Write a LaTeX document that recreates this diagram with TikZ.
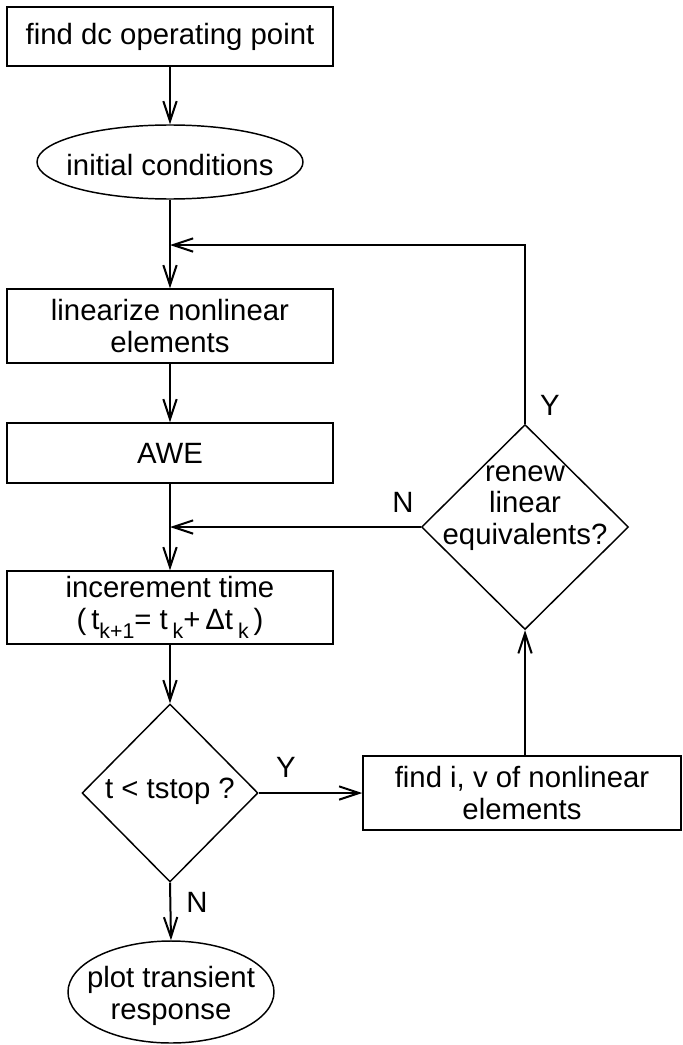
\documentclass[tikz,border=0pt]{standalone}
\usepackage{fontspec}
\setmainfont{Liberation Sans}
\usetikzlibrary{shapes.geometric,arrows.meta}
\newcommand\sbs[1]{\raisebox{-0.32em}{\fontsize{16}{16}\selectfont #1}}
\begin{document}
\begin{tikzpicture}[x=0.75pt,y=-0.75pt,
  font=\fontsize{22}{23.5}\selectfont,
  shp/.style={draw,line width=1.1pt,inner sep=0pt},
  boxn/.style={shp,rectangle,align=center},
  ellshape/.style={shp,ellipse},
  dshape/.style={shp,diamond},
  txt/.style={align=center,inner sep=0pt},
  conn/.style={line width=1.5pt,-{Straight Barb[length=15pt,width=10pt]}},
  lab/.style={inner sep=0pt}]
\useasboundingbox (0,0) rectangle (682,1045);
% shapes
\node[boxn,minimum width=244.5pt,minimum height=44.25pt] (b1) at (170,36.5) {find dc operating point};
\node[ellshape,minimum width=199.5pt,minimum height=55.5pt] (e1) at (170,162) {};
\node[txt] (e1t) at (170,165) {initial conditions};
\node[boxn,minimum width=244.5pt,minimum height=55.5pt] (lin) at (170,326) {linearize nonlinear\\elements};
\node[boxn,minimum width=244.5pt,minimum height=45pt] (awe) at (170,453) {AWE};
\node[boxn,minimum width=244.5pt,minimum height=54.75pt] (inc) at (170,607.5) {incerement time\\(\,t\sbs{k+1}= t\,\sbs{k}+\,Δt\,\sbs{k}\,)};
\node[dshape,minimum width=132pt,minimum height=133.5pt] (d1) at (170,793) {};
\node[txt] (d1t) at (170,791) {t < tstop ?};
\node[boxn,minimum width=238.5pt,minimum height=55.5pt] (fiv) at (522,793) {find i, v of nonlinear\\elements};
\node[dshape,minimum width=155.25pt,minimum height=153.75pt] (d2) at (525,527) {};
\node[txt] (d2t) at (525,508) {renew\\linear\\equivalents?};
\node[ellshape,minimum width=154.5pt,minimum height=76.5pt] (e2) at (171,992) {};
\node[txt] (e2t) at (171,996) {plot transient\\response};
% junctions
\coordinate (j1) at (170,245);
\coordinate (j2) at (170,527);
% connectors
\draw[conn] (b1.south) -- (e1.north);
\draw[conn] (e1.south) -- (lin.north);
\draw[conn] (d2.north) -- (d2.north |- j1) -- (j1);
\draw[conn] (lin.south) -- (awe.north);
\draw[conn] (awe.south) -- (inc.north);
\draw[conn] (d2.west) -- (j2);
\draw[conn] (inc.south) -- (d1.north);
\draw[conn] (d1.east) -- (fiv.west);
\draw[conn] (d2.south |- fiv.north) -- (d2.south);
\draw[conn] (d1.south) -- (e2.north);
% labels
\node[lab] (ly1) at (550,405) {Y};
\node[lab] (ln1) at (403,502) {N};
\node[lab] (ly2) at (286,767) {Y};
\node[lab] (ln2) at (197,902) {N};
\end{tikzpicture}
\end{document}
